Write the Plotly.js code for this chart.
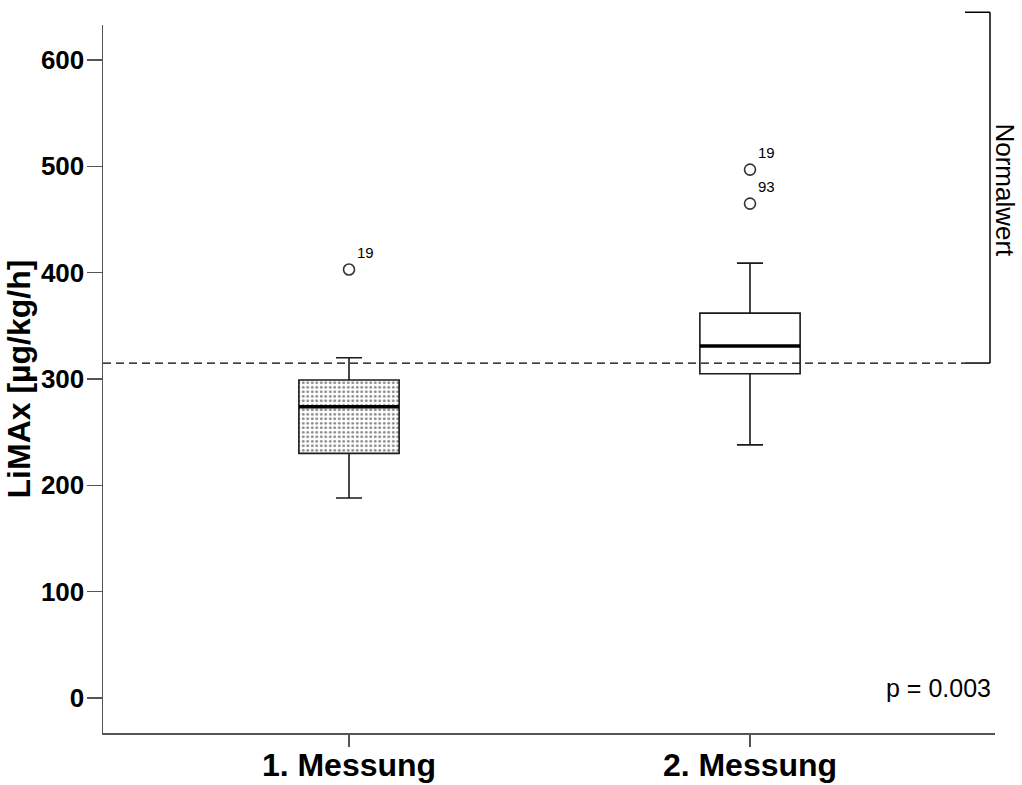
<!DOCTYPE html>
<html>
<head>
<meta charset="utf-8">
<script src="https://cdn.plot.ly/plotly-3.0.1.min.js"></script>
<style>html,body{margin:0;padding:0;background:#fff;}#chart{width:1022px;height:785px;}</style>
</head>
<body>
<div id="chart"></div>
<script>
// ---- data ----
const categories = ['1. Messung', '2. Messung'];
const lowerWhisker = [188, 238];
const q1 = [230, 305];
const median = [274, 331];
const q3 = [299, 362];
const upperWhisker = [320, 409];
const outlierX = ['1. Messung', '2. Messung', '2. Messung'];
const outlierY = [403, 497, 465];
const outlierLabels = ['19', '19', '93'];
const normalValue = 315;
const pValueText = 'p = 0.003';
const normalLabel = 'Normalwert';
const yTitle = 'LiMAx [µg/kg/h]';
const yTicks = [0, 100, 200, 300, 400, 500, 600];

// ---- layout constants ----
const yRange = [-33, 633];
const FONT = 'Liberation Sans, Arial, sans-serif';
const boxWidth = 0.25;
const toPaperY = v => (v - yRange[0]) / (yRange[1] - yRange[0]);

const traces = [];
// patterned fill for the first box
traces.push({
  type: 'bar', x: [categories[0]], base: [q1[0]], y: [q3[0] - q1[0]],
  width: boxWidth,
  marker: {color: '#ffffff', line: {width: 0},
    pattern: {shape: '.', fgcolor: '#888888', bgcolor: '#ffffff', size: 4.5, solidity: 0.32}},
  hoverinfo: 'skip', showlegend: false
});
categories.forEach((c, i) => {
  traces.push({
    type: 'box', x: [c], q1: [q1[i]], median: [median[i]], q3: [q3[i]],
    lowerfence: [lowerWhisker[i]], upperfence: [upperWhisker[i]],
    width: boxWidth, whiskerwidth: 0.26,
    fillcolor: i === 0 ? 'rgba(0,0,0,0)' : '#ffffff',
    line: {color: '#1a1a1a', width: 1.6},
    boxpoints: false, showlegend: false, hoverinfo: 'skip'
  });
});
// thick median lines
traces.push({
  type: 'scatter', mode: 'markers', x: categories, y: median,
  marker: {symbol: 'line-ew-open', size: 71.5, color: '#000', line: {color: '#000', width: 3.5}},
  showlegend: false, hoverinfo: 'skip', cliponaxis: false
});
// outliers
traces.push({
  type: 'scatter', mode: 'markers+text', x: outlierX, y: outlierY,
  text: outlierLabels, textposition: 'top right',
  textfont: {family: FONT, size: 15, color: '#000'},
  marker: {symbol: 'circle-open', size: 11, color: '#333', line: {color: '#333', width: 1.6}},
  showlegend: false, hoverinfo: 'skip', cliponaxis: false
});

const bx = 0.9664;   // bracket inner x (paper)
const bxr = 0.9944;  // bracket vertical x (paper)
const shapes = [
  {type: 'line', xref: 'paper', yref: 'y', x0: 0, x1: bx, y0: normalValue, y1: normalValue,
   line: {color: '#000', width: 1.3, dash: '8px,5px'}},
  {type: 'line', xref: 'paper', yref: 'paper', x0: bx, x1: bxr, y0: toPaperY(normalValue), y1: toPaperY(normalValue),
   line: {color: '#000', width: 1.5}},
  {type: 'line', xref: 'paper', yref: 'paper', x0: bxr, x1: bxr, y0: toPaperY(normalValue), y1: 1.018,
   line: {color: '#000', width: 1.5}},
  {type: 'line', xref: 'paper', yref: 'paper', x0: bx, x1: bxr, y0: 1.018, y1: 1.018,
   line: {color: '#000', width: 1.5}}
];

const layout = {
  width: 1022, height: 785,
  margin: {l: 103, r: 27, t: 25, b: 52},
  paper_bgcolor: '#fff', plot_bgcolor: '#fff',
  font: {family: FONT, color: '#000'},
  showlegend: false, barmode: 'overlay', boxmode: 'overlay',
  xaxis: {
    type: 'category', categoryarray: categories, range: [-0.6135, 1.611],
    showline: true, linecolor: '#555', linewidth: 1.5, mirror: false,
    ticks: 'outside', ticklen: 12, tickwidth: 1.5, tickcolor: '#555',
    ticklabelstandoff: -9,
    tickfont: {family: FONT, size: 32, color: '#000', weight: 'bold'},
    showgrid: false, zeroline: false, fixedrange: true
  },
  yaxis: {
    range: yRange, tickvals: yTicks, ticktext: yTicks.map(String),
    showline: true, linecolor: '#555', linewidth: 1.5,
    ticks: 'outside', ticklen: 15, tickwidth: 1.5, tickcolor: '#555',
    ticklabelstandoff: -3,
    tickfont: {family: FONT, size: 26, color: '#000', weight: 'bold'},
    title: {text: yTitle, font: {family: FONT, size: 32, color: '#000', weight: 'bold'}, standoff: 0},
    showgrid: false, zeroline: false, fixedrange: true
  },
  shapes: shapes,
  annotations: [
    {xref: 'paper', yref: 'paper', x: 1.0107, y: 0.767, text: normalLabel, textangle: 90,
     showarrow: false, font: {family: FONT, size: 26, color: '#000'}, xanchor: 'center', yanchor: 'middle'},
    {xref: 'paper', yref: 'paper', x: 0.998, y: 0.063, text: pValueText, showarrow: false,
     font: {family: FONT, size: 25, color: '#000'}, xanchor: 'right', yanchor: 'middle'}
  ]
};

Plotly.newPlot('chart', traces, layout, {staticPlot: true, displayModeBar: false});
</script>
</body>
</html>
